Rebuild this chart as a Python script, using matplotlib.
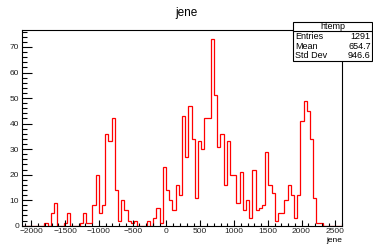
import numpy as np
import matplotlib
matplotlib.use("Agg")
import matplotlib.pyplot as plt
from matplotlib.patches import Rectangle
from matplotlib.ticker import MultipleLocator

plt.rcParams['font.family'] = ['Liberation Sans', 'DejaVu Sans']

# histogram of "jene", 100 bins
x_lo, x_hi = -2140, 2600
counts = [0, 0, 0, 0, 0, 0, 0, 1, 0, 5,
          9, 0, 0, 1, 5, 0, 0, 0, 1, 5,
          1, 1, 8, 20, 5, 8, 36, 33, 42, 14,
          2, 10, 6, 2, 1, 2, 0, 0, 0, 2,
          0, 3, 7, 1, 23, 14, 10, 6, 16, 12,
          43, 27, 47, 34, 11, 33, 30, 42, 42, 73,
          51, 31, 36, 16, 33, 20, 20, 9, 21, 6,
          10, 3, 22, 6, 7, 8, 29, 16, 13, 2,
          5, 5, 10, 16, 12, 3, 12, 41, 49, 45,
          34, 11, 1, 1, 0, 0, 0, 0, 0, 0]

stat_names = ["Entries", "Mean", "Std Dev"]
stat_values = ["1291", "654.7", "946.6"]

edges = np.linspace(x_lo, x_hi, len(counts) + 1)

fig = plt.figure(figsize=(3.73, 2.44), dpi=100)
ax = fig.add_axes([0.059, 0.075, 0.858, 0.802])

ax.stairs(counts, edges, color='red', lw=0.9, baseline=0)
ax.set_xlim(x_lo, x_hi)
ax.set_ylim(0, max(counts) * 1.05)

# root style ticks: inside, major + minor
ax.xaxis.set_major_locator(MultipleLocator(500))
ax.xaxis.set_minor_locator(MultipleLocator(100))
ax.yaxis.set_major_locator(MultipleLocator(10))
ax.yaxis.set_minor_locator(MultipleLocator(2))
ax.tick_params(axis='y', which='major', direction='in', length=7, width=0.8,
               labelsize=6, pad=2, labelcolor='#222222')
ax.tick_params(axis='y', which='minor', direction='in', length=3.5, width=0.8)
ax.tick_params(axis='x', which='major', direction='in', length=4.3, width=0.8,
               labelsize=6, pad=1.5, labelcolor='#222222')
ax.tick_params(axis='x', which='minor', direction='in', length=2.2, width=0.8)
for s in ax.spines.values():
    s.set_linewidth(0.8)

fig.text(0.917, 0.002, "jene", ha='right', va='bottom', fontsize=6)
fig.text(0.50, 0.945, "jene", ha='center', va='center', fontsize=8.5)

# stats box
bx0, by0, bx1, by1 = 0.786, 0.751, 0.998, 0.911
hy = 0.873
fig.patches.append(Rectangle((bx0, by0), bx1 - bx0, by1 - by0,
                             transform=fig.transFigure, facecolor='white',
                             edgecolor='black', lw=0.8, zorder=5))
fig.lines.append(plt.Line2D([bx0, bx1], [hy, hy], transform=fig.transFigure,
                            color='black', lw=0.8, zorder=6))
fig.text((bx0 + bx1) / 2, (hy + by1) / 2, "htemp", ha='center', va='center',
         fontsize=6.5, zorder=7)
row_y = [0.849, 0.811, 0.771]
for name, val, yy in zip(stat_names, stat_values, row_y):
    fig.text(bx0 + 0.006, yy, name, ha='left', va='center', fontsize=6.5, zorder=7)
    fig.text(bx1 - 0.004, yy, val, ha='right', va='center', fontsize=6.5, zorder=7)

fig.savefig("out.png", dpi=100)
